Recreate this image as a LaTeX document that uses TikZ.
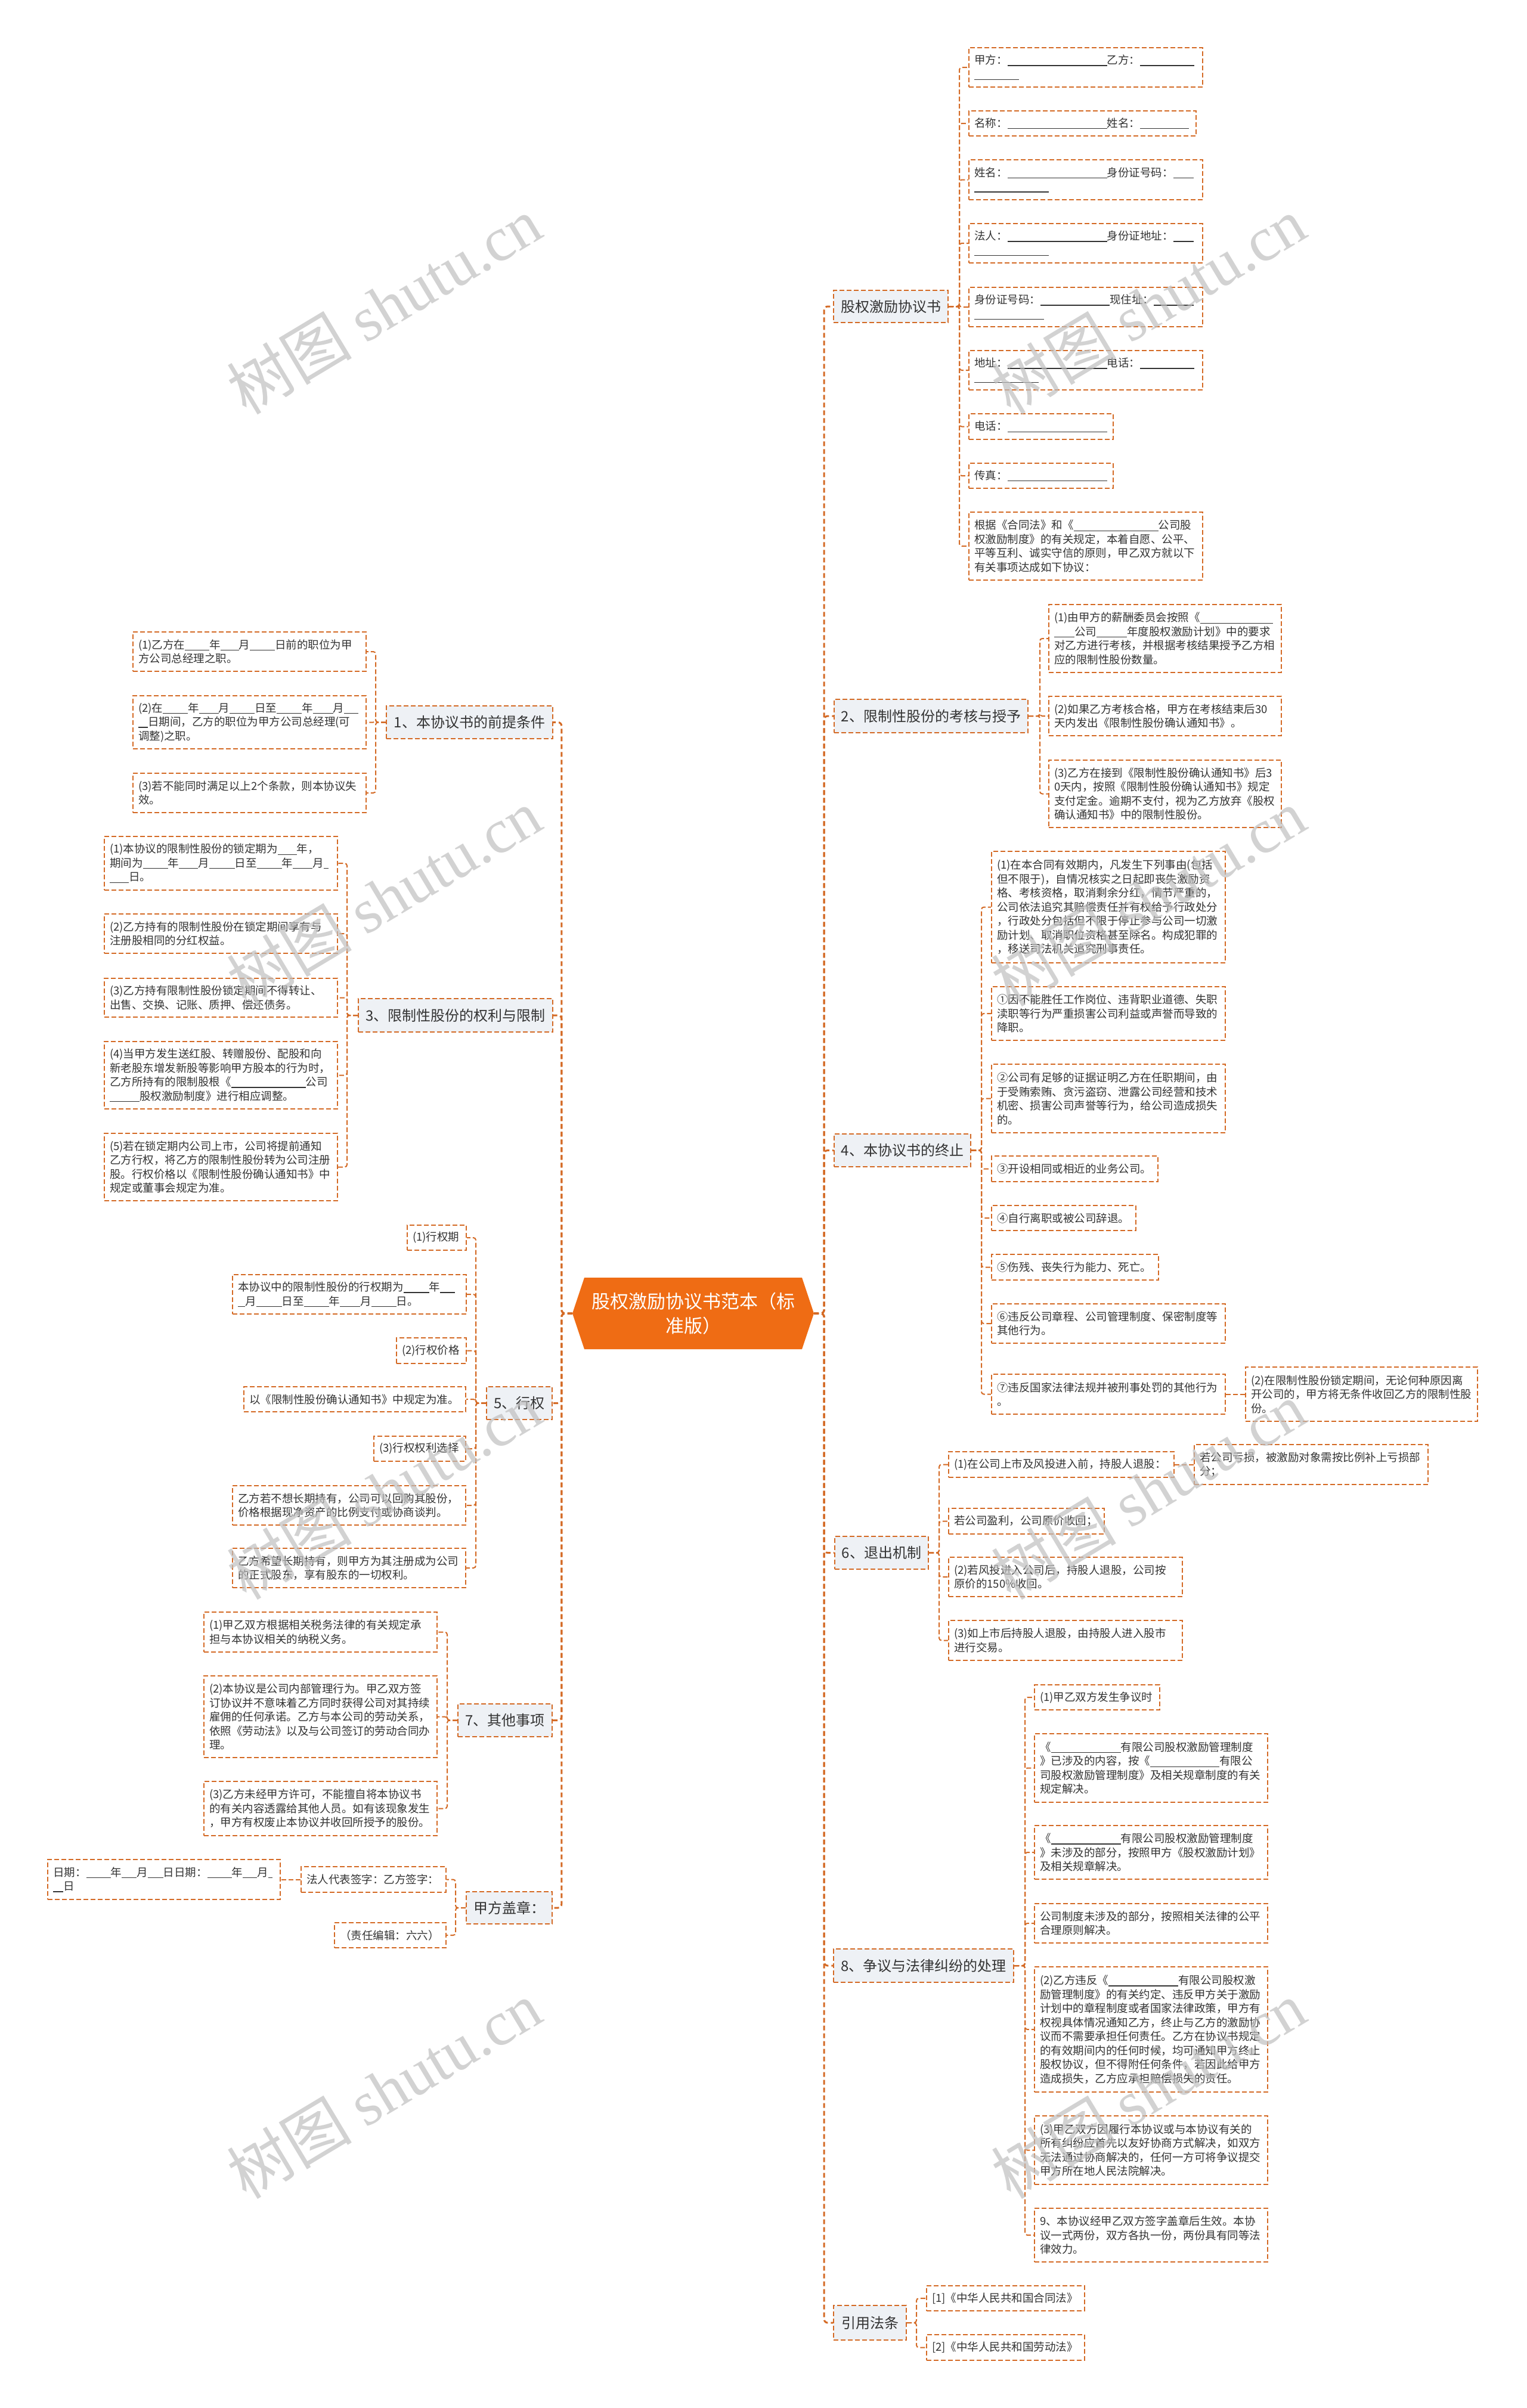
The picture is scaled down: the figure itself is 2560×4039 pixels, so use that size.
\documentclass[tikz,border=0pt]{standalone}
\usepackage{fontspec}
\setmainfont{Noto Sans CJK SC}
\newfontfamily\wmserif{Liberation Serif}
\setlength{\parindent}{0pt}
\definecolor{ln}{HTML}{D46A25}
\definecolor{tx}{HTML}{333333}
\definecolor{lv}{HTML}{EEF1F5}
\definecolor{ctr}{HTML}{EF6C14}
\newcommand\blk[1]{\rule[-3pt]{#1pt}{1.2pt}}
\tikzset{
 leaf/.style={draw=ln, line width=2pt, dash pattern=on 8pt off 4pt, fill=white, text=tx, inner xsep=9pt, inner ysep=0pt, align=left, font=\fontsize{18.5}{23.5}\selectfont},
 lvone/.style={draw=ln, line width=2pt, dash pattern=on 8pt off 4pt, fill=lv, text=tx, inner sep=0pt, align=center, font=\fontsize{24}{30}\selectfont},
 conn/.style={draw=ln, line width=2pt, dash pattern=on 8pt off 4pt, rounded corners=4pt},
 trunk/.style={draw=ln, line width=3pt, dash pattern=on 8pt off 5pt, rounded corners=6pt},
 wm/.style={rotate=31, text=gray!50, text opacity=0.7, font=\fontsize{105}{105}\selectfont, inner sep=0pt},
}
\newcommand\mkleaf[6]{%
  \pgfmathsetmacro\mkW{#4-#2}%
  \pgfmathsetmacro\mkH{#5-#3}%
  \pgfmathsetmacro\mkX{(#2+#4)/2}%
  \pgfmathsetmacro\mkY{(#3+#5)/2}%
  \pgfmathsetmacro\mkT{#4-#2-18}%
  \node[leaf, minimum width=\mkW pt, minimum height=\mkH pt, text width=\mkT pt] (#1) at (\mkX,\mkY) {#6};}
\newcommand\mklv[6]{%
  \pgfmathsetmacro\mkW{#4-#2}%
  \pgfmathsetmacro\mkH{#5-#3}%
  \pgfmathsetmacro\mkX{(#2+#4)/2}%
  \pgfmathsetmacro\mkY{(#3+#5)/2}%
  \node[lvone, minimum width=\mkW pt, minimum height=\mkH pt] (#1) at (\mkX,\mkY) {#6};}
\begin{document}
\begin{tikzpicture}[x=1pt,y=-1pt]
\fill[white] (0,0) rectangle (2560,4039);
\useasboundingbox (0,0) rectangle (2560,4039);

% central node
\fill[ctr] (960,2203) -- (980,2143) -- (1345,2143) -- (1365,2203) -- (1345,2263) -- (980,2263) -- cycle;
\node[minimum width=405pt, minimum height=120pt, inner sep=0pt, align=center, text=white, font=\fontsize{31}{41}\selectfont] (c) at (1162.5,2203) {股权激励协议书范本（标\\准版）};

% right level-1
\mklv{r1}{1398}{487}{1590}{541}{股权激励协议书}
\mklv{r2}{1399}{1173}{1724}{1229}{2、限制性股份的考核与授予}
\mklv{r3}{1399}{1902}{1628}{1957}{4、本协议书的终止}
\mklv{r4}{1400}{2577}{1557}{2632}{6、退出机制}
\mklv{r5}{1398}{3269}{1700}{3325}{8、争议与法律纠纷的处理}
\mklv{r6}{1398}{3867}{1520}{3925}{引用法条}

% left level-1
\mklv{l1}{648}{1184}{927}{1239}{1、本协议书的前提条件}
\mklv{l2}{601}{1675}{927}{1731}{3、限制性股份的权利与限制}
\mklv{l3}{816}{2326}{926}{2381}{5、行权}
\mklv{l4}{768}{2858}{926}{2913}{7、其他事项}
\mklv{l5}{782}{3173}{926}{3227}{甲方盖章：}

% r1 children
\mkleaf{a1}{1625}{80}{2017}{146}{甲方：\blk{167}乙方：\blk{91}\\\blk{75}}
\mkleaf{a2}{1625}{186}{2006}{228}{名称：\blk{167}姓名：\blk{82}}
\mkleaf{a3}{1625}{268}{2017}{335}{姓名：\blk{167}身份证号码：\blk{34}\\\blk{125}}
\mkleaf{a4}{1625}{375}{2017}{441}{法人：\blk{167}身份证地址：\blk{34}\\\blk{125}}
\mkleaf{a5}{1625}{482}{2017}{548}{身份证号码：\blk{116}现住址：\blk{67}\\\blk{117}}
\mkleaf{a6}{1625}{588}{2017}{654}{地址：\blk{167}电话：\blk{91}\\\blk{108}}
\mkleaf{a7}{1625}{694}{1867}{737}{电话：\blk{167}}
\mkleaf{a8}{1625}{777}{1867}{819}{传真：\blk{167}}
\mkleaf{a9}{1625}{859}{2017}{973}{根据《合同法》和《\blk{142}公司股\\权激励制度》的有关规定，本着自愿、公平、\\平等互利、诚实守信的原则，甲乙双方就以下\\有关事项达成如下协议：}

% r2 children
\mkleaf{b1}{1759}{1014}{2149}{1128}{(1)由甲方的薪酬委员会按照《\blk{122}\\\blk{34}公司\blk{51}年度股权激励计划》中的要求\\对乙方进行考核，并根据考核结果授予乙方相\\应的限制性股份数量。}
\mkleaf{b2}{1759}{1168}{2149}{1234}{(2)如果乙方考核合格，甲方在考核结束后30\\天内发出《限制性股份确认通知书》。}
\mkleaf{b3}{1759}{1275}{2149}{1388}{(3)乙方在接到《限制性股份确认通知书》后3\\0天内，按照《限制性股份确认通知书》规定\\支付定金。逾期不支付，视为乙方放弃《股权\\确认通知书》中的限制性股份。}

% r3 children
\mkleaf{c1}{1663}{1428}{2055}{1615}{(1)在本合同有效期内，凡发生下列事由(包括\\但不限于)，自情况核实之日起即丧失激励资\\格、考核资格，取消剩余分红，情节严重的，\\公司依法追究其赔偿责任并有权给予行政处分\\，行政处分包括但不限于停止参与公司一切激\\励计划、取消职位资格甚至除名。构成犯罪的\\，移送司法机关追究刑事责任。}
\mkleaf{c2}{1663}{1655}{2055}{1745}{①因不能胜任工作岗位、违背职业道德、失职\\渎职等行为严重损害公司利益或声誉而导致的\\降职。}
\mkleaf{c3}{1663}{1785}{2055}{1900}{②公司有足够的证据证明乙方在任职期间，由\\于受贿索贿、贪污盗窃、泄露公司经营和技术\\机密、损害公司声誉等行为，给公司造成损失\\的。}
\mkleaf{c4}{1663}{1939}{1942}{1982}{③开设相同或相近的业务公司。}
\mkleaf{c5}{1663}{2022}{1905}{2064}{④自行离职或被公司辞退。}
\mkleaf{c6}{1663}{2104}{1943}{2147}{⑤伤残、丧失行为能力、死亡。}
\mkleaf{c7}{1663}{2187}{2055}{2253}{⑥违反公司章程、公司管理制度、保密制度等\\其他行为。}
\mkleaf{c8}{1663}{2305}{2055}{2372}{⑦违反国家法律法规并被刑事处罚的其他行为\\。}
\mkleaf{c9}{2089}{2293}{2478}{2384}{(2)在限制性股份锁定期间，无论何种原因离\\开公司的，甲方将无条件收回乙方的限制性股\\份。}

% r4 children
\mkleaf{d1}{1591}{2435}{1969}{2478}{(1)在公司上市及风投进入前，持股人退股：}
\mkleaf{d2}{2003}{2423}{2395}{2490}{若公司亏损，被激励对象需按比例补上亏损部\\分；}
\mkleaf{d3}{1591}{2530}{1852}{2573}{若公司盈利，公司原价收回；}
\mkleaf{d4}{1591}{2612}{1983}{2678}{(2)若风投进入公司后，持股人退股，公司按\\原价的150\%收回。}
\mkleaf{d5}{1591}{2718}{1983}{2785}{(3)如上市后持股人退股，由持股人进入股市\\进行交易。}

% r5 children
\mkleaf{e1}{1735}{2826}{1945}{2868}{(1)甲乙双方发生争议时}
\mkleaf{e2}{1735}{2908}{2126}{3023}{《\blk{117}有限公司股权激励管理制度\\》已涉及的内容，按《\blk{116}有限公\\司股权激励管理制度》及相关规章制度的有关\\规定解决。}
\mkleaf{e3}{1735}{3062}{2126}{3152}{《\blk{117}有限公司股权激励管理制度\\》未涉及的部分，按照甲方《股权激励计划》\\及相关规章解决。}
\mkleaf{e4}{1735}{3193}{2126}{3259}{公司制度未涉及的部分，按照相关法律的公平\\合理原则解决。}
\mkleaf{e5}{1735}{3299}{2126}{3509}{(2)乙方违反《\blk{117}有限公司股权激\\励管理制度》的有关约定、违反甲方关于激励\\计划中的章程制度或者国家法律政策，甲方有\\权视具体情况通知乙方，终止与乙方的激励协\\议而不需要承担任何责任。乙方在协议书规定\\的有效期间内的任何时候，均可通知甲方终止\\股权协议，但不得附任何条件，若因此给甲方\\造成损失，乙方应承担赔偿损失的责任。}
\mkleaf{e6}{1735}{3549}{2126}{3664}{(3)甲乙双方因履行本协议或与本协议有关的\\所有纠纷应首先以友好协商方式解决，如双方\\无法通过协商解决的，任何一方可将争议提交\\甲方所在地人民法院解决。}
\mkleaf{e7}{1735}{3704}{2126}{3794}{9、本协议经甲乙双方签字盖章后生效。本协\\议一式两份，双方各执一份，两份具有同等法\\律效力。}

% r6 children
\mkleaf{f1}{1554}{3834}{1819}{3876}{[1]《中华人民共和国合同法》}
\mkleaf{f2}{1554}{3916}{1819}{3959}{[2]《中华人民共和国劳动法》}

% l1 children
\mkleaf{g1}{223}{1060}{614}{1126}{(1)乙方在\blk{41}年\blk{31}月\blk{42}日前的职位为甲\\方公司总经理之职。}
\mkleaf{g2}{223}{1167}{614}{1256}{(2)在\blk{42}年\blk{33}月\blk{42}日至\blk{42}年\blk{34}月\blk{24}\\\blk{16}日期间，乙方的职位为甲方公司总经理(可\\调整)之职。}
\mkleaf{g3}{223}{1297}{614}{1363}{(3)若不能同时满足以上2个条款，则本协议失\\效。}

% l2 children
\mkleaf{h1}{175}{1403}{566}{1493}{(1)本协议的限制性股份的锁定期为\blk{32}年，\\期间为\blk{42}年\blk{32}月\blk{43}日至\blk{42}年\blk{33}月\blk{8}\\\blk{32}日。}
\mkleaf{h2}{175}{1533}{566}{1599}{(2)乙方持有的限制性股份在锁定期间享有与\\注册股相同的分红权益。}
\mkleaf{h3}{175}{1641}{566}{1706}{(3)乙方持有限制性股份锁定期间不得转让、\\出售、交换、记账、质押、偿还债务。}
\mkleaf{h4}{175}{1747}{566}{1860}{(4)当甲方发生送红股、转赠股份、配股和向\\新老股东增发新股等影响甲方股本的行为时，\\乙方所持有的限制股根《\blk{125}公司\\\blk{50}股权激励制度》进行相应调整。}
\mkleaf{h5}{175}{1901}{566}{2014}{(5)若在锁定期内公司上市，公司将提前通知\\乙方行权，将乙方的限制性股份转为公司注册\\股。行权价格以《限制性股份确认通知书》中\\规定或董事会规定为准。}

% l3 children
\mkleaf{i1}{683}{2055}{782}{2097}{(1)行权期}
\mkleaf{i2}{390}{2138}{782}{2204}{本协议中的限制性股份的行权期为\blk{43}年\blk{25}\\\blk{12}月\blk{43}日至\blk{42}年\blk{34}月\blk{42}日。}
\mkleaf{i3}{665}{2244}{782}{2287}{(2)行权价格}
\mkleaf{i4}{409}{2326}{781}{2368}{以《限制性股份确认通知书》中规定为准。}
\mkleaf{i5}{627}{2409}{781}{2451}{(3)行权权利选择}
\mkleaf{i6}{390}{2492}{781}{2558}{乙方若不想长期持有，公司可以回购其股份，\\价格根据现净资产的比例支付或协商谈判。}
\mkleaf{i7}{390}{2597}{781}{2663}{乙方希望长期持有，则甲方为其注册成为公司\\的正式股东，享有股东的一切权利。}

% l4 children
\mkleaf{j1}{342}{2704}{733}{2771}{(1)甲乙双方根据相关税务法律的有关规定承\\担与本协议相关的纳税义务。}
\mkleaf{j2}{342}{2811}{733}{2948}{(2)本协议是公司内部管理行为。甲乙双方签\\订协议并不意味着乙方同时获得公司对其持续\\雇佣的任何承诺。乙方与本公司的劳动关系，\\依照《劳动法》以及与公司签订的劳动合同办\\理。}
\mkleaf{j3}{342}{2988}{733}{3079}{(3)乙方未经甲方许可，不能擅自将本协议书\\的有关内容透露给其他人员。如有该现象发生\\，甲方有权废止本协议并收回所授予的股份。}

% l5 children
\mkleaf{k1}{505}{3131}{748}{3174}{法人代表签字：乙方签字：}
\mkleaf{k2}{561}{3225}{748}{3267}{（责任编辑：六六）}
\mkleaf{k3}{80}{3119}{470}{3186}{日期：\blk{41}年\blk{25}月\blk{26}日日期：\blk{41}年\blk{24}月\blk{7}\\\blk{17}日}

% trunks
\foreach \i in {1,...,6} \draw[trunk] (c.east) -- ++(17,0) |- (r\i.west);
\foreach \i in {1,...,5} \draw[trunk] (c.west) -- ++(-18,0) |- (l\i.east);

% right connectors
\foreach \i in {1,...,9} \draw[conn] (r1.east) -- ++(18,0) |- (a\i.west);
\foreach \i in {1,2,3} \draw[conn] (r2.east) -- ++(19,0) |- (b\i.west);
\foreach \i in {1,...,8} \draw[conn] (r3.east) -- ++(17,0) |- (c\i.west);
\draw[conn] (c8.east) -- (c9.west);
\foreach \i in {1,3,4,5} \draw[conn] (r4.east) -- ++(17,0) |- (d\i.west);
\draw[conn] (d1.east) -- (d2.west);
\foreach \i in {1,...,7} \draw[conn] (r5.east) -- ++(18,0) |- (e\i.west);
\foreach \i in {1,2} \draw[conn] (r6.east) -- ++(16,0) |- (f\i.west);

% left connectors
\foreach \i in {1,2,3} \draw[conn] (l1.west) -- ++(-17,0) |- (g\i.east);
\foreach \i in {1,...,5} \draw[conn] (l2.west) -- ++(-18,0) |- (h\i.east);
\foreach \i in {1,...,7} \draw[conn] (l3.west) -- ++(-17,0) |- (i\i.east);
\foreach \i in {1,2,3} \draw[conn] (l4.west) -- ++(-17,0) |- (j\i.east);
\foreach \i in {1,2} \draw[conn] (l5.west) -- ++(-17,0) |- (k\i.east);
\draw[conn] (k1.west) -- (k3.east);

% watermarks
\foreach \wx/\wy [count=\k] in {644/512,1926/512,644/1505,1926/1505,644/2500,1926/2500,644/3505,1926/3505}
  \node[wm] (wm\k) at (\wx,\wy) {树图 {\wmserif shutu.cn}};
\end{tikzpicture}
\end{document}
